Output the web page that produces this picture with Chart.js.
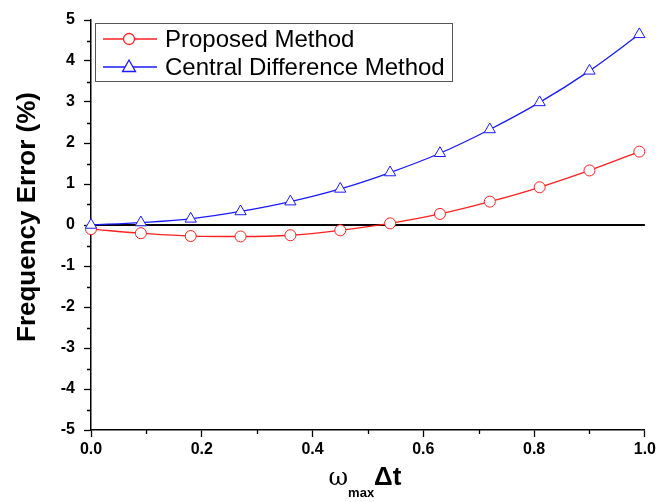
<!DOCTYPE html>
<html>
<head>
<meta charset="utf-8">
<script src="https://cdn.jsdelivr.net/npm/chart.js@4/dist/chart.umd.min.js"></script>
<style>
  html, body { margin: 0; padding: 0; background: #fff; }
  #wrap { width: 659px; height: 502px; }
</style>
</head>
<body>
<div id="wrap"><canvas id="graficoErro"></canvas></div>
<script>
// dados
var xValores = [0, 0.09, 0.18, 0.27, 0.36, 0.45, 0.54, 0.63, 0.72, 0.81, 0.90, 0.99];
var propostoValores = [-0.10, -0.20, -0.27, -0.28, -0.25, -0.13, 0.04, 0.27, 0.57, 0.92, 1.33, 1.79];
var diferencaValores = [0.00, 0.06, 0.15, 0.33, 0.57, 0.88, 1.28, 1.75, 2.33, 2.99, 3.76, 4.65];
var nomesSeries = ['Proposed Method', 'Central Difference Method'];
var xTicks = [0, 0.2, 0.4, 0.6, 0.8, 1.0];
var yTicks = [-5, -4, -3, -2, -1, 0, 1, 2, 3, 4, 5];
var tituloY = 'Frequency Error (%)';

function pares(valores) {
    return xValores.map(function (x, i) { return { x: x, y: valores[i] }; });
}

var fonteEixo = 'Liberation Sans, Arial, sans-serif';

// legenda, ticks menores e titulos dos eixos
var extras = {
    id: 'extras',
    afterDraw: function (chart) {
        var ctx = chart.ctx;
        var sx = chart.scales.x, sy = chart.scales.y;
        var area = chart.chartArea;
        ctx.save();

        // ticks menores
        ctx.strokeStyle = '#000';
        ctx.lineWidth = 1.3;
        ctx.beginPath();
        for (var v = -4.5; v < 5; v += 1) {
            var py = Math.round(sy.getPixelForValue(v)) + 0.5;
            ctx.moveTo(area.left - 4, py);
            ctx.lineTo(area.left, py);
        }
        for (var h = 0.1; h < 1; h += 0.2) {
            var px = Math.round(sx.getPixelForValue(h)) + 0.5;
            ctx.moveTo(px, area.bottom);
            ctx.lineTo(px, area.bottom + 4);
        }
        ctx.stroke();

        // caixa da legenda
        var bx = 95, by = 23, bw = 357, bh = 58;
        ctx.fillStyle = '#fff';
        ctx.fillRect(bx, by, bw, bh);
        ctx.strokeStyle = '#555';
        ctx.lineWidth = 1;
        ctx.strokeRect(bx + 0.5, by + 0.5, bw, bh);

        chart.data.datasets.forEach(function (ds) {
            if (!ds.naLegenda) return;
            var ly = 39 + (ds.naLegenda - 1) * 28;
            ctx.strokeStyle = ds.borderColor;
            ctx.lineWidth = 1.3;
            ctx.beginPath();
            ctx.moveTo(103, ly);
            ctx.lineTo(157, ly);
            ctx.stroke();
            ctx.fillStyle = '#fff';
            ctx.beginPath();
            var cx = 129, r = 5.5;
            if (ds.pointStyle === 'circle') {
                ctx.arc(cx, ly, r, 0, Math.PI * 2);
            } else {
                ctx.moveTo(cx, ly - 7);
                ctx.lineTo(cx - 6.5, ly + 4.5);
                ctx.lineTo(cx + 6.5, ly + 4.5);
                ctx.closePath();
            }
            ctx.fill();
            ctx.stroke();
            ctx.fillStyle = '#000';
            ctx.font = '24px ' + fonteEixo;
            ctx.textBaseline = 'middle';
            ctx.textAlign = 'left';
            ctx.fillText(ds.label, 165, ly + 1);
        });

        // titulo do eixo y
        ctx.save();
        ctx.translate(28, 217);
        ctx.rotate(-Math.PI / 2);
        ctx.fillStyle = '#000';
        ctx.font = 'bold 26px ' + fonteEixo;
        ctx.textAlign = 'center';
        ctx.textBaseline = 'middle';
        ctx.fillText(tituloY, 0, 0);
        ctx.restore();

        // titulo do eixo x com subscrito
        var cxT = 365;
        var base = 485;
        ctx.textBaseline = 'alphabetic';
        ctx.textAlign = 'left';
        var fW = '24px "DejaVu Serif", serif';
        var fM = 'bold 13px ' + fonteEixo;
        var fD = 'bold 26px ' + fonteEixo;
        ctx.font = fW; var w1 = ctx.measureText('ω').width;
        ctx.font = fM; var w2 = ctx.measureText('max').width;
        ctx.font = fD; var w3 = ctx.measureText('Δt').width;
        var x0 = cxT - (w1 + w2 + w3) / 2;
        ctx.fillStyle = '#000';
        ctx.font = fW; ctx.fillText('ω', x0, base);
        ctx.font = fM; ctx.fillText('max', x0 + w1, base + 12);
        ctx.font = fD; ctx.fillText('Δt', x0 + w1 + w2, base);

        ctx.restore();
    }
};

var ctx = document.getElementById('graficoErro').getContext('2d');
var graficoErro = new Chart(ctx, {
    type: 'line',
    data: {
        datasets: [
            {
                label: 'zero',
                data: [{ x: 0, y: 0 }, { x: 1, y: 0 }],
                borderColor: '#000',
                borderWidth: 2,
                pointRadius: 0,
                order: 3
            },
            {
                label: nomesSeries[0],
                naLegenda: 1,
                data: pares(propostoValores),
                borderColor: '#ff2020',
                borderWidth: 1.3,
                pointStyle: 'circle',
                pointRadius: 5.5,
                pointBorderWidth: 1,
                pointBackgroundColor: '#fff',
                pointBorderColor: '#ff2020',
                cubicInterpolationMode: 'monotone',
                clip: false,
                order: 2
            },
            {
                label: nomesSeries[1],
                naLegenda: 2,
                data: pares(diferencaValores),
                borderColor: '#1a1aff',
                borderWidth: 1.3,
                pointStyle: 'triangle',
                pointRadius: 6.5,
                pointBorderWidth: 1,
                pointBackgroundColor: '#fff',
                pointBorderColor: '#1a1aff',
                cubicInterpolationMode: 'monotone',
                clip: false,
                order: 1
            }
        ]
    },
    options: {
        responsive: true,
        maintainAspectRatio: false,
        animation: false,
        layout: { padding: { top: 20, right: 13, left: 0, bottom: 0 } },
        plugins: {
            legend: { display: false },
            tooltip: { enabled: false }
        },
        scales: {
            x: {
                type: 'linear',
                min: 0,
                max: 1,
                afterBuildTicks: function (scale) {
                    scale.ticks = xTicks.map(function (v) { return { value: v }; });
                },
                afterFit: function (scale) { scale.height = 72; },
                grid: { drawOnChartArea: false, tickLength: 7, tickColor: '#000', tickWidth: 1.3 },
                border: { color: '#000', width: 1.5 },
                ticks: {
                    padding: 3,
                    color: '#000',
                    font: { family: fonteEixo, size: 16, weight: 'bold' },
                    callback: function (value) { return value.toFixed(1); }
                }
            },
            y: {
                type: 'linear',
                min: -5,
                max: 5,
                afterBuildTicks: function (scale) {
                    scale.ticks = yTicks.map(function (v) { return { value: v }; });
                },
                afterFit: function (scale) { scale.width = 91; },
                grid: { drawOnChartArea: false, tickLength: 7, tickColor: '#000', tickWidth: 1.3 },
                border: { color: '#000', width: 1.5 },
                ticks: {
                    padding: 9,
                    color: '#000',
                    font: { family: fonteEixo, size: 16, weight: 'bold' }
                }
            }
        }
    },
    plugins: [extras]
});
</script>
</body>
</html>
